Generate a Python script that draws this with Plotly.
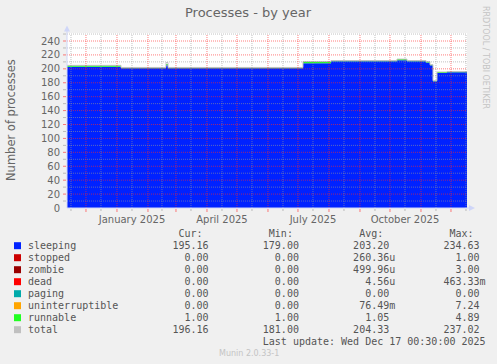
import plotly.graph_objects as go

# ---------------- data ----------------
step_dates = ["2024-11-12 00:30", "2025-01-05", "2025-02-19", "2025-02-21", "2025-07-06",
              "2025-08-03", "2025-10-08", "2025-10-18", "2025-11-06", "2025-11-10",
              "2025-11-13", "2025-11-17", "2025-11-27", "2025-12-17 00:30"]
sleeping = [203.0, 201.0, 205.0, 201.0, 208.0, 211.0, 212.5, 211.0, 209.0, 205.0,
            182.0, 194.0, 195.2, 195.2]
runnable = [2.0, 1.0, 2.0, 1.0, 2.5, 1.0, 1.5, 1.0, 1.5, 1.0, 1.0, 1.5, 1.0, 1.0]
total = [205.0, 202.0, 209.0, 202.0, 210.5, 212.0, 214.0, 212.0, 210.5, 206.0,
         183.0, 195.5, 196.2, 196.2]

y_ticks = [0, 20, 40, 60, 80, 100, 120, 140, 160, 180, 200, 220, 240]
x_label_dates = ["2025-01-16", "2025-04-16", "2025-07-16", "2025-10-16"]
x_label_text = ["January 2025", "April 2025", "July 2025", "October 2025"]
month_lines = ["2024-12-01", "2025-01-01", "2025-02-01", "2025-03-01", "2025-04-01",
               "2025-05-01", "2025-06-01", "2025-07-01", "2025-08-01", "2025-09-01",
               "2025-10-01", "2025-11-01", "2025-12-01"]
mid_lines = ["2024-11-16", "2024-12-16", "2025-01-16", "2025-02-15", "2025-03-16",
             "2025-04-16", "2025-05-16", "2025-06-16", "2025-07-16", "2025-08-16",
             "2025-09-16", "2025-10-16", "2025-11-16", "2025-12-16"]

legend_names = ["sleeping", "stopped", "zombie", "dead", "paging",
                "uninterruptible", "runnable", "total"]
legend_colors = ["#0022ff", "#cc0000", "#990000", "#ff0000", "#00aaaa",
                 "#ffa500", "#22ff22", "#c0c0c0"]
cur_vals = ["195.16", "0.00", "0.00", "0.00", "0.00", "0.00", "1.00", "196.16"]
min_vals = ["179.00", "0.00", "0.00", "0.00", "0.00", "0.00", "1.00", "181.00"]
avg_vals = ["203.20", "260.36u", "499.96u", "4.56u", "0.00", "76.49m", "1.05", "204.33"]
max_vals = ["234.63", "1.00", "3.00", "463.33m", "0.00", "7.24", "4.89", "237.02"]
last_update = "Last update: Wed Dec 17 00:30:00 2025"

# ---------------- geometry helpers ----------------
W, H = 497, 364
L, R, T, B = 67, 467, 33, 208
YMAX = 251.5


def PX(px):
    return (px - L) / (R - L)


def PY(py):
    return (B - py) / (B - T)


stack_top = [s + r for s, r in zip(sleeping, runnable)]

fig = go.Figure()
fig.add_trace(go.Scatter(x=step_dates, y=sleeping, mode="lines", line=dict(width=0, shape="hv"),
                         fill="tozeroy", fillcolor="#0022ff", hoverinfo="skip"))
fig.add_trace(go.Scatter(x=step_dates, y=stack_top, mode="lines", line=dict(width=0, shape="hv"),
                         fill="tonexty", fillcolor="#22ff22", hoverinfo="skip"))
fig.add_trace(go.Scatter(x=step_dates, y=total, mode="lines",
                         line=dict(width=1, color="#c0c0c0", shape="hv"), hoverinfo="skip"))

shapes = []
MAJ = "rgba(255,40,40,0.6)"
MIN = "rgba(150,150,150,0.6)"
DASH = "1px,1px"
# horizontal grid
for v in range(10, 260, 10):
    col = MAJ if v % 20 == 0 else MIN
    shapes.append(dict(type="line", xref="paper", yref="y", x0=0, x1=1, y0=v, y1=v,
                       line=dict(color=col, width=1, dash=DASH), layer="above"))
    shapes.append(dict(type="line", xref="paper", yref="y", x0=PX(63), x1=PX(66), y0=v, y1=v,
                       line=dict(color=col, width=1), layer="above"))
# vertical grid
for d in mid_lines:
    shapes.append(dict(type="line", xref="x", yref="paper", x0=d, x1=d, y0=0, y1=PY(34),
                       line=dict(color=MIN, width=1, dash=DASH), layer="above"))
    shapes.append(dict(type="line", xref="x", yref="paper", x0=d, x1=d, y0=PY(209), y1=PY(211),
                       line=dict(color=MIN, width=1), layer="above"))
for d in month_lines:
    shapes.append(dict(type="line", xref="x", yref="paper", x0=d, x1=d, y0=0, y1=PY(34),
                       line=dict(color=MAJ, width=1, dash=DASH), layer="above"))
    shapes.append(dict(type="line", xref="x", yref="paper", x0=d, x1=d, y0=PY(209), y1=PY(212),
                       line=dict(color=MAJ, width=1), layer="above"))
# axes with arrows
AX = "#cfd6f8"
shapes.append(dict(type="line", xref="paper", yref="paper", x0=PX(67), x1=PX(67), y0=PY(208), y1=PY(30),
                   line=dict(color=AX, width=1), layer="above"))
shapes.append(dict(type="line", xref="paper", yref="paper", x0=PX(67), x1=PX(470), y0=PY(208), y1=PY(208),
                   line=dict(color=AX, width=1), layer="above"))
shapes.append(dict(type="path", xref="paper", yref="paper",
                   path=f"M {PX(64)} {PY(31.5)} L {PX(70)} {PY(31.5)} L {PX(67)} {PY(25.5)} Z",
                   fillcolor=AX, line=dict(color=AX, width=0), layer="above"))
shapes.append(dict(type="path", xref="paper", yref="paper",
                   path=f"M {PX(469)} {PY(205)} L {PX(469)} {PY(211)} L {PX(475)} {PY(208)} Z",
                   fillcolor=AX, line=dict(color=AX, width=0), layer="above"))

annotations = []
annotations.append(dict(text="Processes - by year", x=PX(248.5), y=PY(13), xref="paper", yref="paper",
                        showarrow=False, font=dict(family="DejaVu Sans", size=13, color="#666666"),
                        xanchor="center", yanchor="middle"))
annotations.append(dict(text="Number of processes", x=PX(11), y=PY(120), xref="paper", yref="paper",
                        showarrow=False, textangle=-90,
                        font=dict(family="DejaVu Sans", size=11.5, color="#666666"),
                        xanchor="center", yanchor="middle"))
annotations.append(dict(text="RRDTOOL / TOBI OETIKER", x=PX(486), y=PY(57), xref="paper", yref="paper",
                        showarrow=False, textangle=90,
                        font=dict(family="DejaVu Sans", size=8, color="#c4c4c4"),
                        xanchor="center", yanchor="middle"))
annotations.append(dict(text="Munin 2.0.33-1", x=PX(249), y=PY(353), xref="paper", yref="paper",
                        showarrow=False, font=dict(family="DejaVu Sans", size=8, color="#c4c4c4"),
                        xanchor="center", yanchor="middle"))

NB = "\u00a0"


def field(s):
    if s[-1].isalpha():
        num, suf = s[:-1], s[-1]
    else:
        num, suf = s, " "
    return num.rjust(6) + suf


MONO = dict(family="DejaVu Sans Mono", size=10, color="#555555")
TX = PX(25.5)
header = " " * 25 + "Cur:" + " " * 11 + "Min:" + " " * 11 + "Avg:" + " " * 11 + "Max:"
annotations.append(dict(text=header.replace(" ", NB), x=TX, y=PY(233.3), xref="paper", yref="paper",
                        showarrow=False, font=MONO, xanchor="left", yanchor="middle"))
for i, name in enumerate(legend_names):
    cy = 245.7 + 12 * i
    row = name.ljust(24) + field(cur_vals[i]) + " " * 8 + field(min_vals[i]) + " " * 8 + \
        field(avg_vals[i]) + " " * 8 + field(max_vals[i])
    annotations.append(dict(text=row.replace(" ", NB), x=TX, y=PY(cy), xref="paper", yref="paper",
                            showarrow=False, font=MONO, xanchor="left", yanchor="middle"))
    shapes.append(dict(type="rect", xref="paper", yref="paper", x0=PX(14), x1=PX(21),
                       y0=PY(cy - 3.5), y1=PY(cy + 3.5), fillcolor=legend_colors[i],
                       line=dict(width=0)))
annotations.append(dict(text=(" " * 39 + last_update).replace(" ", NB), x=TX, y=PY(341.7),
                        xref="paper", yref="paper", showarrow=False, font=MONO,
                        xanchor="left", yanchor="middle"))

fig.update_layout(
    width=W, height=H,
    margin=dict(l=L, r=W - R, t=T, b=H - B, pad=0),
    paper_bgcolor="#f0f0f0", plot_bgcolor="#ffffff",
    showlegend=False,
    shapes=shapes, annotations=annotations,
    xaxis=dict(type="date", range=["2024-11-12 00:30", "2025-12-17 00:30"], showgrid=False,
               zeroline=False, showline=False, tickmode="array", tickvals=x_label_dates,
               ticktext=x_label_text, ticks="", ticklabelstandoff=4,
               tickfont=dict(family="DejaVu Sans", size=10, color="#666666")),
    yaxis=dict(range=[0, YMAX], showgrid=False, zeroline=False, showline=False,
               tickmode="array", tickvals=y_ticks, ticks="", ticklabelstandoff=6,
               tickfont=dict(family="DejaVu Sans", size=10, color="#666666")),
)

fig.write_html("out.html", config={"displayModeBar": False, "staticPlot": True},
               post_script="document.body.style.margin='0px';"
                           "document.body.style.background='#f0f0f0';")
